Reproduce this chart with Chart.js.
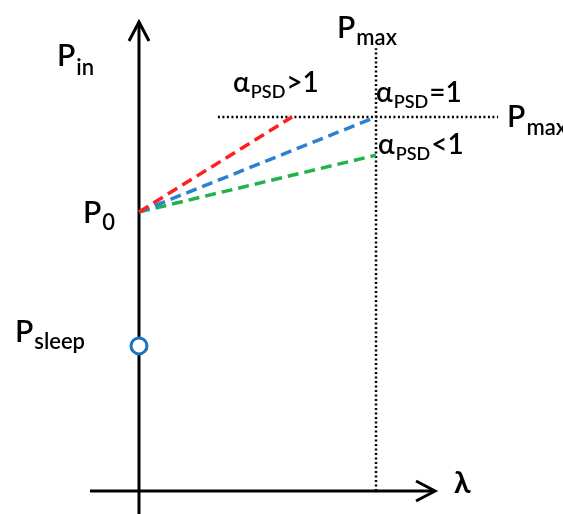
<!DOCTYPE html>
<html>
<head>
<meta charset="utf-8">
<script src="https://cdn.jsdelivr.net/npm/chart.js@4.4.0/dist/chart.umd.min.js"></script>
<style>
  html, body { margin: 0; padding: 0; background: #fff; }
  #wrap { width: 563px; height: 514px; }
</style>
</head>
<body>
<div id="wrap"><canvas id="chart" width="563" height="514"></canvas></div>
<script>
// input power model vs. load (lambda)
const lambdaMax = 10;
const pMax = 10;
const p0 = 7.46;
const pSleep = 3.88;

// load curves from P0, as [lambda, P] end points
const curveAbove = [[0, p0], [6.46, pMax]];      // alpha_PSD > 1
const curveUnit = [[0, p0], [lambdaMax, pMax]];  // alpha_PSD = 1
const curveBelow = [[0, p0], [lambdaMax, 8.98]]; // alpha_PSD < 1

// axes and dotted guides
const lambdaAxis = [-2.07, 12.49];
const pAxis = [-0.62, 12.54];
const pMaxGuide = [3.33, 15.15];
const lambdaMaxGuide = [0, 11.84];

const FONT = 'Lato, "Open Sans", sans-serif';
const WEIGHT = '600';

const toPts = arr => arr.map(([x, y]) => ({ x, y }));

function arrowHead(ctx, tx, ty, dx, dy) {
  const len = 19, half = 10;
  const px = -dy, py = dx;
  ctx.beginPath();
  ctx.moveTo(tx - dx * len + px * half, ty - dy * len + py * half);
  ctx.lineTo(tx, ty);
  ctx.lineTo(tx - dx * len - px * half, ty - dy * len - py * half);
  ctx.stroke();
}

// text with a subscript part and optional trailing text
function subLabel(ctx, x, y, main, sub, tail, size, subSize, drop) {
  ctx.font = `${WEIGHT} ${size}px ${FONT}`;
  ctx.fillText(main, x, y);
  let cx = x + ctx.measureText(main).width + 1;
  ctx.font = `${WEIGHT} ${subSize}px ${FONT}`;
  ctx.fillText(sub, cx, y + drop);
  cx += ctx.measureText(sub).width + 1;
  if (tail) {
    ctx.font = `${WEIGHT} ${size}px ${FONT}`;
    ctx.fillText(tail, cx, y);
  }
}

const decorations = {
  id: 'decorations',
  afterDatasetsDraw(chart) {
    const { ctx, scales: { x, y } } = chart;
    ctx.save();
    ctx.strokeStyle = '#000';
    ctx.fillStyle = '#000';
    ctx.lineWidth = 3;
    ctx.lineCap = 'butt';
    ctx.lineJoin = 'miter';

    const ox = x.getPixelForValue(0);
    const oy = y.getPixelForValue(0);
    const yTip = y.getPixelForValue(pAxis[1]);
    const xTip = x.getPixelForValue(lambdaAxis[1]);
    arrowHead(ctx, ox, yTip, 0, -1);
    arrowHead(ctx, xTip, oy, 1, 0);

    ctx.textBaseline = 'alphabetic';
    ctx.textAlign = 'left';

    // axis names
    subLabel(ctx, ox - 82, yTip + 44, 'P', 'in', '', 30, 22, 9);
    ctx.font = `bold 30px ${FONT}`;
    ctx.fillText('\u03BB', xTip + 19, oy + 2);

    // levels on the power axis
    const yP0 = y.getPixelForValue(p0);
    const ySleep = y.getPixelForValue(pSleep);
    subLabel(ctx, ox - 56, yP0 + 11, 'P', '0', '', 30, 22, 7);
    subLabel(ctx, ox - 124, ySleep - 4, 'P', 'sleep', '', 30, 22, 7);

    // Pmax guides
    const gx = x.getPixelForValue(lambdaMax);
    const gyTop = y.getPixelForValue(lambdaMaxGuide[1]);
    const gy = y.getPixelForValue(pMax);
    const gxRight = x.getPixelForValue(pMaxGuide[1]);
    subLabel(ctx, gx - 39, gyTop - 10, 'P', 'max', '', 30, 22, 7);
    subLabel(ctx, gxRight + 9, gy + 10, 'P', 'max', '', 30, 22, 8);

    // curve labels
    const rx = x.getPixelForValue(curveAbove[1][0]);
    const ry = y.getPixelForValue(curveAbove[1][1]);
    subLabel(ctx, rx - 59, ry - 25, '\u03B1', 'PSD', '>1', 28, 18, 6);
    const bx = x.getPixelForValue(curveUnit[1][0]);
    const by = y.getPixelForValue(curveUnit[1][1]);
    subLabel(ctx, bx, by - 15, '\u03B1', 'PSD', '=1', 28, 18, 6);
    const gnx = x.getPixelForValue(curveBelow[1][0]);
    const gny = y.getPixelForValue(curveBelow[1][1]);
    subLabel(ctx, gnx + 2, gny - 1, '\u03B1', 'PSD', '<1', 28, 18, 6);

    ctx.restore();
  }
};

const line = (data, color, width, dash, order) => ({
  data: toPts(data),
  showLine: true,
  borderColor: color,
  borderWidth: width,
  borderDash: dash,
  pointRadius: 0,
  fill: false,
  order
});

new Chart(document.getElementById('chart'), {
  type: 'scatter',
  data: {
    datasets: [
      line([[lambdaAxis[0], 0], [lambdaAxis[1], 0]], '#000', 3, [], 5),
      line([[0, pAxis[0]], [0, pAxis[1]]], '#000', 3, [], 5),
      line([[pMaxGuide[0], pMax], [pMaxGuide[1], pMax]], '#000', 2.5, [2, 2.5], 4),
      line([[lambdaMax, lambdaMaxGuide[0]], [lambdaMax, lambdaMaxGuide[1]]], '#000', 2.5, [2, 2.5], 4),
      line(curveBelow, '#22b24c', 3.5, [11, 6], 3),
      line(curveUnit, '#2b80d2', 3.5, [11, 6], 2),
      line(curveAbove, '#ff1f1f', 3.5, [11, 6], 1),
      {
        data: [{ x: 0, y: pSleep }],
        pointRadius: 8,
        pointBorderWidth: 3,
        pointBorderColor: '#1a73c1',
        pointBackgroundColor: '#fff',
        order: 0
      }
    ]
  },
  options: {
    responsive: false,
    animation: false,
    events: [],
    layout: { padding: 0, autoPadding: false },
    plugins: { legend: { display: false }, tooltip: { enabled: false } },
    scales: {
      x: { type: 'linear', display: false, min: -5.865, max: 17.89 },
      y: { type: 'linear', display: false, min: -0.615, max: 13.128 }
    }
  },
  plugins: [decorations]
});
</script>
</body>
</html>
